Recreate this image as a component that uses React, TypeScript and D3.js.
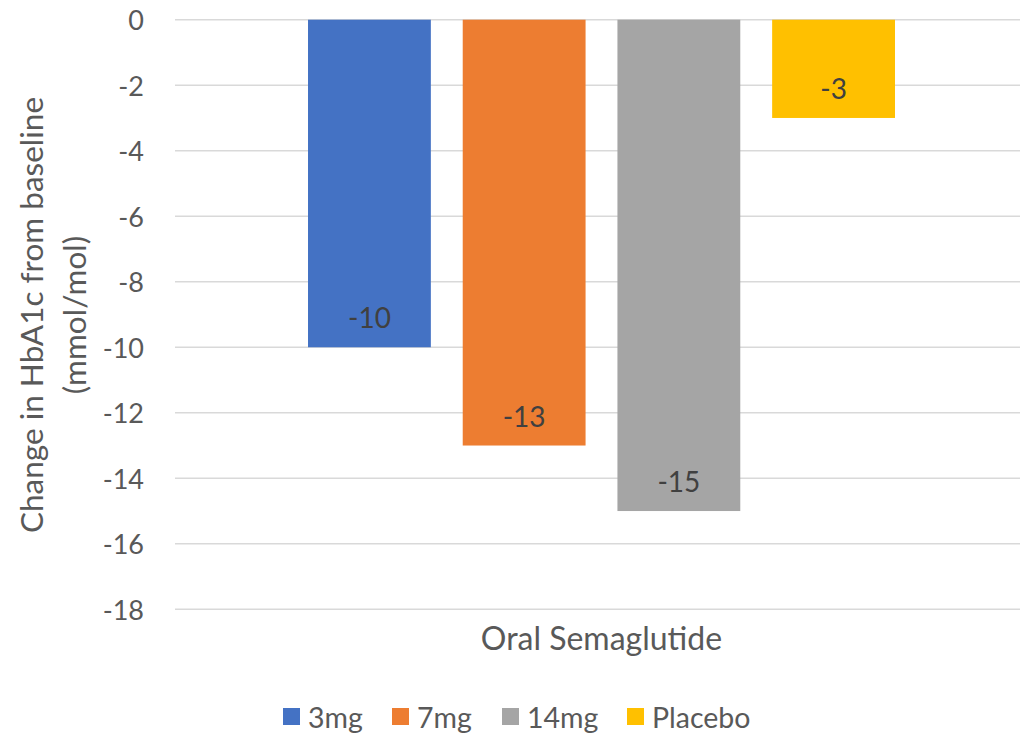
import React from "react";
import * as d3 from "d3";

const categories = ["Oral Semaglutide"];
const seriesNames = ["3mg", "7mg", "14mg", "Placebo"];
const seriesValues = [-10, -13, -15, -3];
const seriesColors = ["#4472C4", "#ED7D31", "#A5A5A5", "#FFC000"];
const yTicks = [0, -2, -4, -6, -8, -10, -12, -14, -16, -18];
const yTitleLines = ["Change in HbA1c from baseline", "(mmol/mol)"];

const W = 1020;
const H = 734;
const FONT = "Lato, 'Open Sans', sans-serif";

export default function App() {
  const y = d3.scaleLinear().domain([0, -18]).range([19.7, 609.3]);
  const x0 = d3
    .scaleBand<string>()
    .domain(categories)
    .range([175, 1028])
    .paddingInner(0)
    .paddingOuter(0.2266);
  const x1 = d3
    .scaleBand<string>()
    .domain(seriesNames)
    .range([0, x0.bandwidth()])
    .paddingInner(0.206)
    .paddingOuter(0);

  const legendX = [283, 392, 502, 627];

  return (
    <svg width={W} height={H} style={{ display: "block", position: "absolute", left: 0, top: 0 }}>
      <rect width={W} height={H} fill="#fff" />
      {yTicks.map((t) => (
        <g key={t}>
          <line x1={175} x2={W} y1={y(t)} y2={y(t)} stroke="#D9D9D9" strokeWidth={1.5} />
          <text
            x={144}
            y={y(t)}
            textAnchor="end"
            dominantBaseline="central"
            fontFamily={FONT}
            fontSize={27}
            fill="#595959"
          >
            {t}
          </text>
        </g>
      ))}
      {categories.map((c) => (
        <g key={c}>
          {seriesNames.map((s, i) => {
            const v = seriesValues[i];
            const bx = (x0(c) ?? 0) + (x1(s) ?? 0);
            const bw = x1.bandwidth();
            return (
              <g key={s}>
                <rect x={bx} y={y(0)} width={bw} height={y(v) - y(0)} fill={seriesColors[i]} />
                <text
                  x={bx + bw / 2}
                  y={y(v) - 30}
                  textAnchor="middle"
                  dominantBaseline="central"
                  fontFamily={FONT}
                  fontSize={28}
                  fill="#404040"
                >
                  {v}
                </text>
              </g>
            );
          })}
          <text
            x={(x0(c) ?? 0) + x0.bandwidth() / 2}
            y={637}
            textAnchor="middle"
            dominantBaseline="central"
            fontFamily={FONT}
            fontSize={32}
            fill="#595959"
          >
            {c}
          </text>
        </g>
      ))}
      <g transform="translate(0,315) rotate(-90)">
        {yTitleLines.map((l, i) => (
          <text
            key={l}
            x={0}
            y={31 + i * 43}
            textAnchor="middle"
            dominantBaseline="central"
            fontFamily={FONT}
            fontSize={31.5}
            fill="#595959"
          >
            {l}
          </text>
        ))}
      </g>
      {seriesNames.map((s, i) => (
        <g key={s}>
          <rect x={legendX[i]} y={708} width={17} height={17} fill={seriesColors[i]} />
          <text
            x={legendX[i] + 25}
            y={717}
            dominantBaseline="central"
            fontFamily={FONT}
            fontSize={28.5}
            fill="#595959"
          >
            {s}
          </text>
        </g>
      ))}
    </svg>
  );
}
